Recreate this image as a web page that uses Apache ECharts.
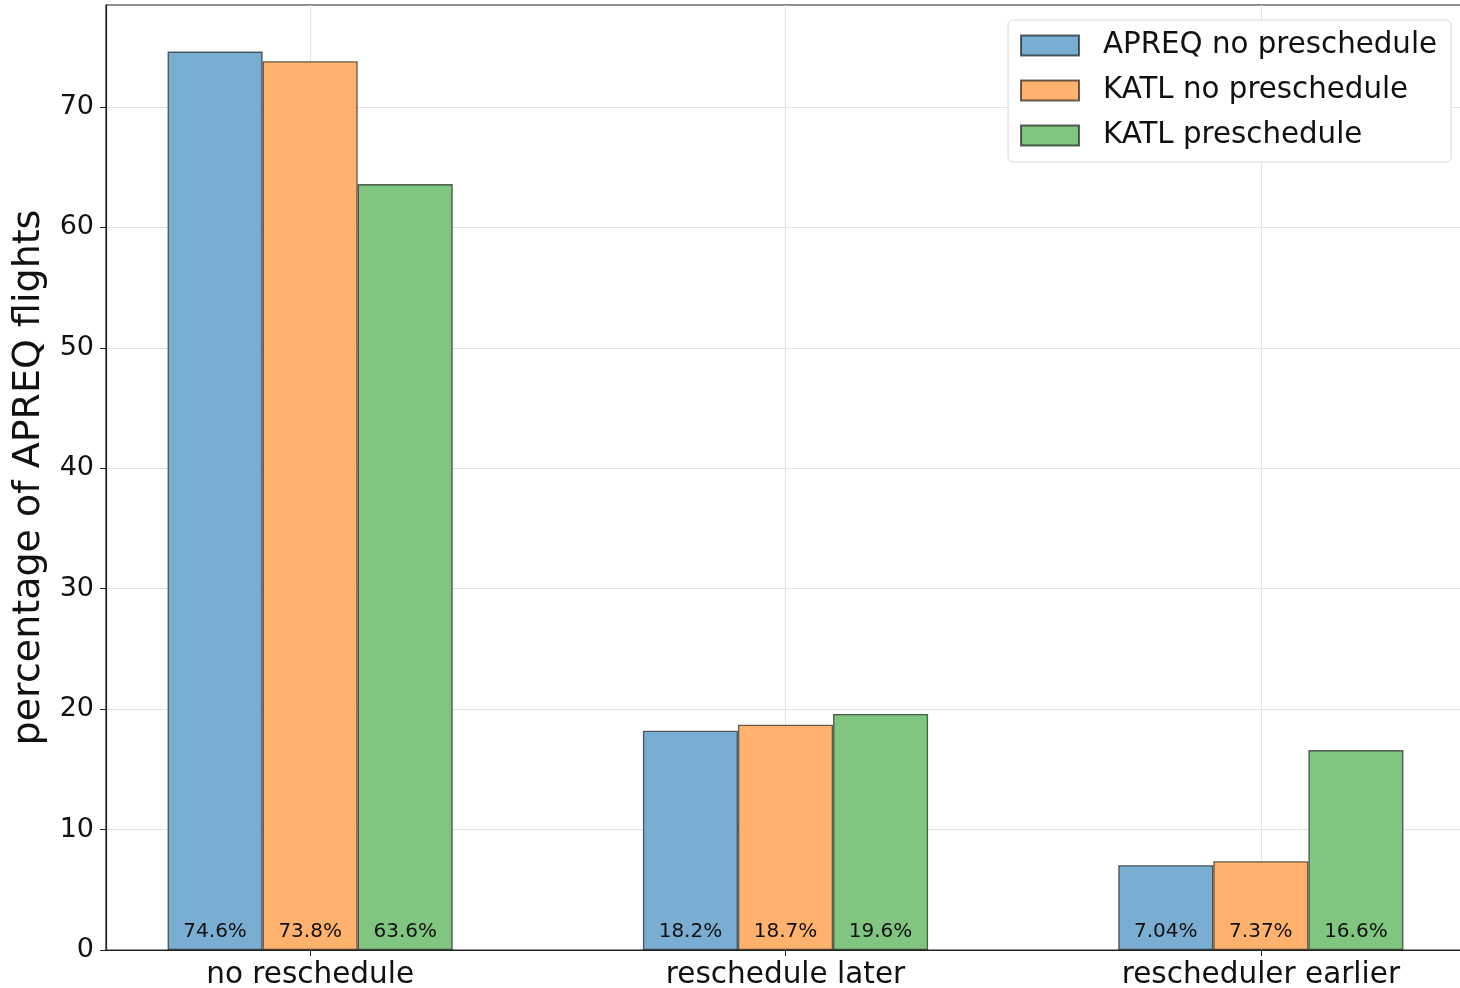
<!DOCTYPE html>
<html>
<head>
<meta charset="utf-8">
<script src="https://cdn.jsdelivr.net/npm/echarts@6/dist/echarts.min.js"></script>
<style>html,body{margin:0;padding:0;background:#fff}#c{width:1460px;height:988px}</style>
</head>
<body>
<div id="c"></div>
<script>
const categories = ['no reschedule', 'reschedule later', 'rescheduler earlier'];
const seriesNames = ['APREQ no preschedule', 'KATL no preschedule', 'KATL preschedule'];
const apreqNoPre = [74.6, 18.2, 7.04];
const katlNoPre = [73.8, 18.7, 7.37];
const katlPre = [63.6, 19.6, 16.6];
const yTicks = [0, 10, 20, 30, 40, 50, 60, 70];
const colors = ['#79add2', '#ffb26e', '#80c680'];
const seriesValues = [apreqNoPre, katlNoPre, katlPre];
const catPos = categories.map((c, i) => i);

const chart = echarts.init(document.getElementById('c'));
const font = 'DejaVu Sans';
chart.setOption({
  animation: false,
  grid: { left: 106, right: -5, top: 5, bottom: 38, outerBoundsMode: 'none', containLabel: false,
    show: true, borderColor: '#222', borderWidth: 1.2, backgroundColor: 'transparent' },
  legend: {
    orient: 'vertical', left: 1008, top: 20,
    padding: [11, 14, 12, 12],
    icon: 'rect',
    itemWidth: 58, itemHeight: 20, itemGap: 16,
    backgroundColor: '#fff', borderColor: '#d8d8d8', borderWidth: 1, borderRadius: 5,
    textStyle: { fontFamily: font, fontSize: 29.3, color: '#111', lineHeight: 29, padding: [0, 0, 0, 19] },
    data: seriesNames
  },
  xAxis: {
    type: 'value', min: -0.4295, max: 2.4295,
    axisLine: { show: true, onZero: false, lineStyle: { color: '#222', width: 1.2 } },
    axisTick: { show: true, customValues: catPos, length: 6, lineStyle: { color: '#222' } },
    axisLabel: { customValues: catPos, formatter: v => categories[Math.round(v)], fontFamily: font, fontSize: 29.5, color: '#111', margin: 10 },
    splitLine: { show: true, lineStyle: { color: '#e3e3e3', width: 1 } }
  },
  yAxis: {
    type: 'value', min: 0, max: 78.47,
    name: 'percentage of APREQ flights', nameLocation: 'middle', nameGap: 58,
    nameTextStyle: { fontFamily: font, fontSize: 38, color: '#111' },
    axisLine: { show: true, onZero: false, lineStyle: { color: '#222', width: 1.2 } },
    axisTick: { show: true, customValues: yTicks, length: 6, lineStyle: { color: '#222' } },
    axisLabel: { customValues: yTicks, fontFamily: font, fontSize: 27, color: '#111', margin: 12 },
    splitLine: { show: true, lineStyle: { color: '#e3e3e3', width: 1 } }
  },
  series: seriesNames.map((name, s) => ({
    name, type: 'bar', barGap: '0%', barCategoryGap: '40%',
    data: seriesValues[s].map((v, i) => [catPos[i], v]),
    itemStyle: { color: colors[s], borderColor: 'rgba(0,0,0,0.6)', borderWidth: 1.3 },
    label: { show: true, position: 'insideBottom', distance: 8, fontFamily: font, fontSize: 20, color: '#111',
      formatter: p => p.value[1] + '%' }
  }))
});
</script>
</body>
</html>
